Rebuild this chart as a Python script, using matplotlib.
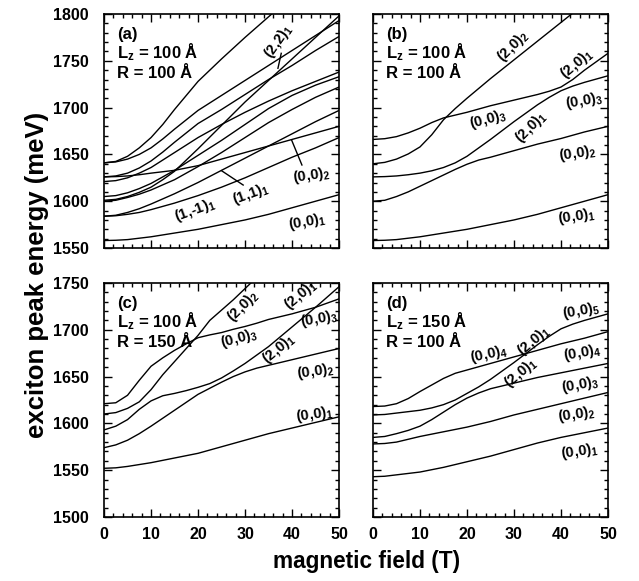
import numpy as np
import matplotlib
matplotlib.use("Agg")
import matplotlib.pyplot as plt
from matplotlib.ticker import MultipleLocator

plt.rcParams['font.family'] = ['Liberation Sans', 'DejaVu Sans']
plt.rcParams['font.weight'] = 'bold'
plt.rcParams['mathtext.fontset'] = 'custom'
plt.rcParams['mathtext.rm'] = 'Liberation Sans:bold'
plt.rcParams['mathtext.bf'] = 'Liberation Sans:bold'
plt.rcParams['mathtext.it'] = 'Liberation Sans:bold'

nan = np.nan
field = [0, 2.5, 5, 7.5, 10, 12.5, 15, 17.5, 20, 22.5, 25,
         27.5, 30, 32.5, 35, 37.5, 40, 42.5, 45, 47.5, 50]

# panel (a)  Lz = 100, R = 100
a_00_1 = [1558, 1558.3, 1559, 1560.5, 1562, 1564, 1566, 1568, 1570, 1572.5, 1575,
          1577.5, 1580, 1583, 1586, 1589.5, 1593, 1596.5, 1600, 1603.5, 1607]
a_1m1_1 = [1584, 1584.5, 1586, 1588, 1591, 1594.5, 1598, 1602, 1606, 1610.5, 1615,
           1620, 1625, 1630.5, 1636, 1641.5, 1647, 1652, 1657, 1662.5, 1668]
a_11_1 = [1584, 1585, 1588, 1592, 1597, 1602.5, 1608, 1614, 1620, 1626.5, 1633,
          1639.5, 1646, 1652.5, 1659, 1665.5, 1672, 1678.5, 1685, 1691, 1697]
a_00_2 = [1626, 1626.3, 1627, 1628.3, 1630, 1631.5, 1633, 1635.5, 1638, 1641.5, 1645,
          1648.5, 1652, 1655.5, 1659, 1662.5, 1666, 1669.5, 1673, 1676.5, 1680]
a_22_1 = [1601, 1602, 1605, 1609.5, 1615, 1623, 1632, 1644, 1656, 1668.5, 1681,
          1693.5, 1706, 1717.5, 1729, 1740.5, 1752, 1763.5, 1775, 1786.5, 1798]
a_lev6 = [1641, 1642.5, 1648, 1657, 1668, 1682, 1698, 1713, 1728, 1740, 1752,
          1763.5, 1775, 1786, 1797, 1808, nan, nan, nan, nan, nan]
a_lev7 = [1641, 1642, 1645, 1650, 1657, 1666.5, 1677, 1687, 1697, 1705, 1713,
          1721, 1729, 1737, 1745, 1753, 1761, 1769, 1777, 1785, 1793]
a_lev8 = [1626, 1627, 1630, 1635.5, 1643, 1652.5, 1663, 1673, 1683, 1690.5, 1698,
          1706, 1714, 1722, 1730, 1737.5, 1745, 1753, 1761, 1768.5, 1776]
a_lev9 = [1621, 1622, 1625, 1630, 1636, 1644, 1652, 1660, 1668, 1675, 1682,
          1688.5, 1695, 1701, 1707, 1712.5, 1718, 1723, 1728, 1733, 1738]
a_lev10 = [1605, 1606, 1609, 1613.5, 1619, 1626, 1633, 1641, 1649, 1657, 1665,
           1673.5, 1682, 1690.5, 1699, 1706, 1713, 1718.5, 1724, 1728.5, 1733]
a_lev11 = [1600, 1601, 1604, 1607.5, 1612, 1617.5, 1623, 1630, 1637, 1644.5, 1652,
           1660, 1668, 1676, 1684, 1691, 1698, 1704.5, 1711, 1716.5, 1722]

# panel (b)  Lz = 100, R = 100
b_00_1 = [1558, 1558.3, 1559, 1560.5, 1562, 1564, 1566, 1568, 1570, 1572.5, 1575,
          1577.5, 1580, 1583, 1586, 1589.5, 1593, 1596.5, 1600, 1603.5, 1607]
b_00_2 = [1600, 1601, 1605, 1610, 1616, 1622, 1628, 1634, 1639.5, 1644, 1647,
          1650.5, 1654, 1657.5, 1661, 1664, 1667, 1670.5, 1674, 1677, 1680]
b_20_1 = [1626, 1626.3, 1627, 1628.3, 1630, 1632.5, 1636, 1641, 1648, 1657, 1666,
          1675.5, 1685, 1694, 1703, 1711, 1718, 1723, 1727, 1730.5, 1734]
b_00_3 = [1666, 1666.8, 1669, 1673, 1678, 1684, 1689, 1692, 1695, 1698.5, 1702,
          1705, 1708, 1711, 1714, 1717.5, 1722, 1730, 1740, 1749, 1758]
b_20_2 = [1640, 1641.5, 1645, 1650.5, 1658, 1671, 1687, 1699, 1710, 1720.5, 1731,
          1741, 1751, 1761, 1771, 1781, 1791, 1801, nan, nan, nan]

# panel (c)  Lz = 100, R = 150
c_00_1 = [1552, 1552.5, 1554, 1556, 1558, 1560.5, 1563, 1565.5, 1568, 1571.5, 1575,
          1578.5, 1582, 1585.5, 1589, 1592, 1595, 1598, 1601, 1604, 1607]
c_00_2 = [1574, 1577, 1582, 1589, 1597, 1605.5, 1614, 1622.5, 1631, 1637.5, 1644,
          1650, 1655, 1659, 1662, 1665, 1668, 1671, 1674, 1677, 1680]
c_20_1 = [1593, 1597, 1604, 1615, 1624, 1629.5, 1632, 1635, 1638.5, 1642.5, 1648.5,
          1656, 1664, 1673, 1682, 1692.5, 1703, 1713.5, 1724, 1735, 1746]
c_20_2 = [1610, 1611.5, 1616, 1623, 1636, 1652, 1666, 1680, 1694, 1710, 1721,
          1732, 1744, 1756, nan, nan, nan, nan, nan, nan, nan]
c_00_3 = [1621, 1622, 1630, 1646, 1661, 1670, 1678, 1685, 1691.5, 1694.5, 1697,
          1700.5, 1703.5, 1707, 1711, 1714, 1717, 1720.5, 1724, 1728.5, 1733]

# panel (d)  Lz = 150, R = 100
d_00_1 = [1543, 1543.5, 1545, 1546.5, 1548, 1550.5, 1553, 1556, 1559, 1562, 1565,
          1568.5, 1572, 1575.5, 1579, 1582, 1585, 1587.5, 1590, 1592.5, 1595]
d_00_2 = [1578, 1578.5, 1580, 1583, 1586, 1588.5, 1591, 1593.5, 1596, 1599, 1602,
          1605.5, 1609, 1612, 1615, 1618, 1621, 1624, 1627, 1630, 1633]
d_00_3 = [1585, 1586, 1589, 1592.5, 1597, 1604, 1612, 1620, 1627, 1632.5, 1637,
          1640, 1643, 1646, 1649, 1651.5, 1654, 1656.5, 1659, 1661.5, 1664]
d_20_1 = [1609, 1609.5, 1611, 1612.5, 1614, 1616.5, 1620, 1625, 1632, 1639, 1647,
          1656, 1665, 1674.5, 1684, 1693, 1701, 1706, 1710, 1713.5, 1717]
d_00_4 = [1618, 1618.5, 1621, 1626.5, 1634, 1641, 1648, 1653.5, 1657, 1660.5, 1664,
          1667.5, 1671, 1674.5, 1678, 1681.5, 1685, 1688, 1691, 1694.5, 1698]


def setup_axes(ax, ylo, yhi, xlabels, ylabels):
    ax.set_xlim(0, 50)
    ax.set_ylim(ylo, yhi)
    ax.xaxis.set_major_locator(MultipleLocator(10))
    ax.xaxis.set_minor_locator(MultipleLocator(2))
    ax.yaxis.set_major_locator(MultipleLocator(50))
    ax.yaxis.set_minor_locator(MultipleLocator(10))
    ax.tick_params(which='both', direction='in', top=True, right=True,
                   labelsize=11.5, width=1)
    ax.tick_params(which='major', length=6)
    ax.tick_params(which='minor', length=3)
    ax.tick_params(axis='y', pad=11)
    ax.tick_params(axis='x', pad=7)
    if not xlabels:
        ax.set_xticklabels([])
    if not ylabels:
        ax.set_yticklabels([])
    for s in ax.spines.values():
        s.set_linewidth(1.2)


def info(ax, letter, lz, r):
    ax.text(0.055, 0.893, letter, transform=ax.transAxes, fontsize=12)
    ax.text(0.055, 0.812, "L$_\\mathregular{z}$ = " + lz + " Å", transform=ax.transAxes, fontsize=12)
    ax.text(0.055, 0.726, "R = " + r + " Å", transform=ax.transAxes, fontsize=12)


def lab(ax, x, y, s, rot=0):
    ax.text(x, y, s, fontsize=10.5, rotation=rot, ha='center', va='center',
            rotation_mode='anchor')


fig = plt.figure(figsize=(6.39, 5.81), dpi=100)
ax_a = fig.add_axes([0.1628, 0.5731, 0.3678, 0.4028])
ax_b = fig.add_axes([0.5837, 0.5731, 0.3678, 0.4028])
ax_c = fig.add_axes([0.1628, 0.1102, 0.3678, 0.4028])
ax_d = fig.add_axes([0.5837, 0.1102, 0.3678, 0.4028])

kw = dict(color='black', lw=1.0)
for y in [a_00_1, a_1m1_1, a_11_1, a_00_2, a_22_1, a_lev6, a_lev7, a_lev8, a_lev9, a_lev10, a_lev11]:
    ax_a.plot(field, y, **kw)
for y in [b_00_1, b_00_2, b_20_1, b_00_3, b_20_2]:
    ax_b.plot(field, y, **kw)
for y in [c_00_1, c_00_2, c_20_1, c_20_2, c_00_3]:
    ax_c.plot(field, y, **kw)
for y in [d_00_1, d_00_2, d_00_3, d_20_1, d_00_4]:
    ax_d.plot(field, y, **kw)

setup_axes(ax_a, 1550, 1800, False, True)
setup_axes(ax_b, 1550, 1800, False, False)
setup_axes(ax_c, 1500, 1750, True, True)
setup_axes(ax_d, 1500, 1750, True, False)

info(ax_a, "(a)", "100", "100")
info(ax_b, "(b)", "100", "100")
info(ax_c, "(c)", "100", "150")
info(ax_d, "(d)", "150", "100")

# labels (a)
lab(ax_a, 37.0, 1771, "(2,2)$_1$", 55)
ax_a.plot([37.7, 37.0], [1758, 1742], **kw)
lab(ax_a, 44.0, 1627, "(0,0)$_2$", 8)
ax_a.plot([42.1, 39.9], [1638.7, 1665.4], **kw)
lab(ax_a, 31.2, 1607.7, "(1,1)$_1$", 20)
ax_a.plot([29.6, 25.0], [1617.3, 1632.6], **kw)
lab(ax_a, 19.4, 1590.6, "(1,-1)$_1$", 20)
lab(ax_a, 43.1, 1578, "(0,0)$_1$", 10)

# labels (b)
lab(ax_b, 29.7, 1765.8, "(2,0)$_2$", 45)
lab(ax_b, 43.3, 1746.6, "(2,0)$_1$", 40)
lab(ax_b, 44.9, 1707.4, "(0,0)$_3$", 10)
lab(ax_b, 24.5, 1687.5, "(0,0)$_3$", 15)
lab(ax_b, 33.5, 1679, "(2,0)$_1$", 45)
lab(ax_b, 43.5, 1651, "(0,0)$_2$", 8)
lab(ax_b, 43.3, 1584, "(0,0)$_1$", 8)

# labels (c)
lab(ax_c, 29.5, 1725.4, "(2,0)$_2$", 45)
lab(ax_c, 41.8, 1737.2, "(2,0)$_1$", 40)
lab(ax_c, 45.8, 1711.2, "(0,0)$_3$", 10)
lab(ax_c, 28.6, 1691, "(0,0)$_3$", 15)
lab(ax_c, 37.2, 1679, "(2,0)$_1$", 40)
lab(ax_c, 44.9, 1655.2, "(0,0)$_2$", 8)
lab(ax_c, 44.7, 1609, "(0,0)$_1$", 8)

# labels (d)
lab(ax_d, 44.2, 1720.4, "(0,0)$_5$", 10)
lab(ax_d, 34.1, 1688.4, "(2,0)$_1$", 40)
lab(ax_d, 24.7, 1674.1, "(0,0)$_4$", 12)
lab(ax_d, 44.4, 1674.9, "(0,0)$_4$", 10)
lab(ax_d, 31.4, 1654.2, "(2,0)$_1$", 40)
lab(ax_d, 44.0, 1641, "(0,0)$_3$", 10)
lab(ax_d, 43.3, 1610, "(0,0)$_2$", 8)
lab(ax_d, 44.0, 1569.8, "(0,0)$_1$", 8)

fig.text(0.058, 0.527, "exciton peak energy (meV)", rotation=90, fontsize=18.5,
         ha='center', va='center')
fig.text(0.573, 0.033, "magnetic field (T)", fontsize=16.3, ha='center', va='center')

fig.savefig("out.png", dpi=100)
